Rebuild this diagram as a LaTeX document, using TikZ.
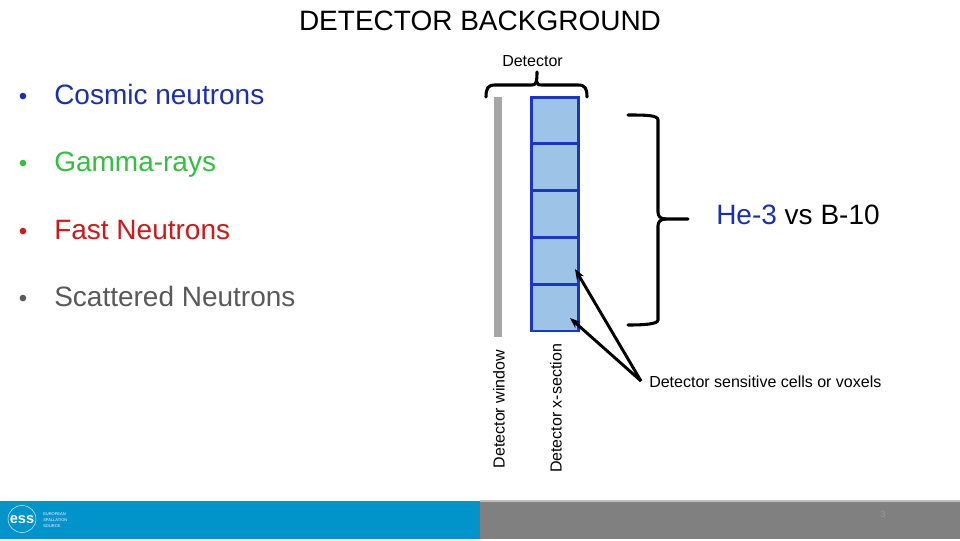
\documentclass[tikz,border=0pt]{standalone}
\usepackage{fontspec}
\setmainfont{Liberation Sans}
\usetikzlibrary{arrows.meta}
\definecolor{cellblue}{HTML}{9DC3E6}
\definecolor{celledge}{HTML}{1A35C8}
\definecolor{essblue}{HTML}{0094CA}
\definecolor{bargray}{HTML}{808080}
\definecolor{wingray}{HTML}{A6A6A6}
\definecolor{txtblue}{HTML}{1A2FB0}
\definecolor{txtgreen}{HTML}{33C040}
\definecolor{txtred}{HTML}{D01818}
\definecolor{txtgray}{HTML}{595959}
\tikzset{
  lbl/.style={inner sep=0pt,font=\fontsize{12pt}{14pt}\selectfont},
  bullet/.style={inner sep=0pt,anchor=base west,font=\fontsize{21pt}{24pt}\selectfont},
  dot/.style={inner sep=0pt,anchor=base,font=\fontsize{18pt}{20pt}\selectfont},
  cell/.style={draw=celledge,line width=2pt,fill=cellblue,minimum width=35.5pt,minimum height=35pt,inner sep=0pt},
  bracket/.style={line width=2.3pt,line cap=round},
  pointer/.style={line width=2.2pt,-{Stealth[length=8pt,width=6pt]}}
}
\begin{document}
\begin{tikzpicture}[x=0.75pt,y=-0.75pt]
\useasboundingbox (0,0) rectangle (960,540);
\node[inner sep=0pt,font=\fontsize{21pt}{24pt}\selectfont] (title) at (480,21) {DETECTOR BACKGROUND};
\foreach \t/\c/\y in {Cosmic neutrons/txtblue/104,Gamma-rays/txtgreen/171,Fast Neutrons/txtred/239,Scattered Neutrons/txtgray/306}{
  \node[bullet,text=\c] at (54,\y) {\t};
  \node[dot,text=\c] at (23,\y) {\textbullet};
}
% detector
\fill[wingray] (494,97) rectangle (502,337);
\foreach \n/\y in {1/120.5,2/167,3/213.5,4/260.5,5/307.5}{\node[cell] (c\n) at (555,\y) {};}
\node[lbl] (det) at (532.5,61) {Detector};
\node[lbl,rotate=90] (win) at (499,409) {Detector window};
\node[lbl,rotate=90] (sec) at (556,408.5) {Detector x-section};
\node[lbl,anchor=west] (cells) at (649,382) {Detector sensitive cells or voxels};
\node[inner sep=0pt,anchor=west,font=\fontsize{21pt}{24pt}\selectfont] (he) at (716,215) {\textcolor{txtblue}{He-3} vs B-10};
% brackets
\coordinate (top) at (537,72);
\draw[bracket] (486,97) .. controls (486,88) and (488,85) .. (495,85) -- (532,85) .. controls (536,85) and (537,82) .. (top);
\draw[bracket] (537,82) .. controls (537,84) and (538,85) .. (542,85) -- (578,85) .. controls (585,85) and (587,88) .. (587,97);
\coordinate (tip) at (688,219);
\draw[bracket] (628,115) .. controls (645,115) and (658,115) .. (658,120) -- (658,212) .. controls (658,216) and (660,219) .. (666,219) -- (tip);
\draw[bracket] (666,219) .. controls (660,219) and (658,222) .. (658,226) -- (658,320) .. controls (658,324) and (645,325) .. (628,325);
% arrows
\coordinate (from) at (641,381);
\coordinate (a1) at (575,269);
\coordinate (a2) at (570,318);
\draw[pointer] (from) -- (a1);
\draw[pointer] (from) -- (a2);
% footer
\fill[essblue] (0,501) rectangle (480,539);
\fill[bargray] (480,501) rectangle (960,539);
\fill[black!25] (480,500) rectangle (960,502);
\node[inner sep=0pt,font=\fontsize{7pt}{8pt}\selectfont,text=black!40] (page) at (883,514) {3};
\draw[white!80!essblue,line width=0.4pt] (22,519) ellipse (14 and 13.5);
\node[inner sep=0pt,text=white,font=\bfseries\fontsize{11pt}{11pt}\selectfont] (ess) at (22,520) {ess};
\node[inner sep=0pt,anchor=west,text=white,align=left,font=\fontsize{3pt}{4.5pt}\selectfont] (src) at (43,520) {EUROPEAN\\SPALLATION\\SOURCE};
\end{tikzpicture}
\end{document}
